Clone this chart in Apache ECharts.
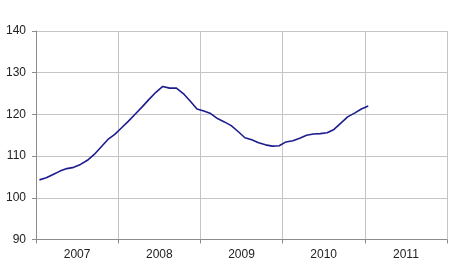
<!DOCTYPE html>
<html>
<head>
<meta charset="utf-8">
<script src="https://cdn.jsdelivr.net/npm/echarts@6/dist/echarts.min.js"></script>
<style>html,body{margin:0;padding:0;background:#fff;}#c{width:450px;height:280px;}</style>
</head>
<body>
<div id="c"></div>
<script>
var years = ['2007', '2008', '2009', '2010', '2011'];
var yTicks = [90, 100, 110, 120, 130, 140];
// monthly index values, Jan 2007 .. Jan 2011
var values2007 = [104.3, 104.8, 105.6, 106.4, 107.0, 107.3, 108.0, 109.0, 110.4, 112.2, 114.0, 115.2];
var values2008 = [116.8, 118.4, 120.1, 121.8, 123.6, 125.3, 126.7, 126.3, 126.3, 125.0, 123.2, 121.3];
var values2009 = [120.8, 120.2, 119.0, 118.2, 117.3, 115.9, 114.4, 113.9, 113.2, 112.7, 112.4, 112.5];
var values2010 = [113.4, 113.7, 114.3, 115.0, 115.3, 115.4, 115.6, 116.4, 117.9, 119.4, 120.3, 121.3];
var values2011 = [122.0];
var values = [].concat(values2007, values2008, values2009, values2010, values2011);
var pts = values.map(function (v, i) { return [i + 0.5, v]; });

var chart = echarts.init(document.getElementById('c'), null, {renderer: 'canvas'});
chart.setOption({
  animation: false,
  backgroundColor: '#ffffff',
  grid: {left: 36, top: 31, width: 411, height: 208.5, containLabel: false},
  xAxis: [{
    type: 'category', data: years, boundaryGap: true,
    axisLine: {show: true, lineStyle: {color: '#8c8c8c', width: 1}},
    axisTick: {show: true, length: 4, lineStyle: {color: '#8c8c8c'}},
    axisLabel: {color: '#222', fontFamily: 'Liberation Sans, Arial', fontSize: 12, margin: 9},
    splitLine: {show: true, lineStyle: {color: '#c4c4c4', width: 1}}
  }, {
    type: 'value', min: 0, max: 60, show: false
  }],
  yAxis: {
    type: 'value', min: yTicks[0], max: yTicks[yTicks.length - 1], interval: 10,
    axisLine: {show: true, lineStyle: {color: '#8c8c8c', width: 1}},
    axisTick: {show: true, length: 4, lineStyle: {color: '#8c8c8c'}},
    axisLabel: {color: '#222', fontFamily: 'Liberation Sans, Arial', fontSize: 12, margin: 10},
    splitLine: {show: true, lineStyle: {color: '#c4c4c4', width: 1}}
  },
  series: [{
    type: 'line', xAxisIndex: 1, data: pts, showSymbol: false, smooth: false,
    lineStyle: {color: '#1c1c8e', width: 1.6}
  }]
});
</script>
</body>
</html>
